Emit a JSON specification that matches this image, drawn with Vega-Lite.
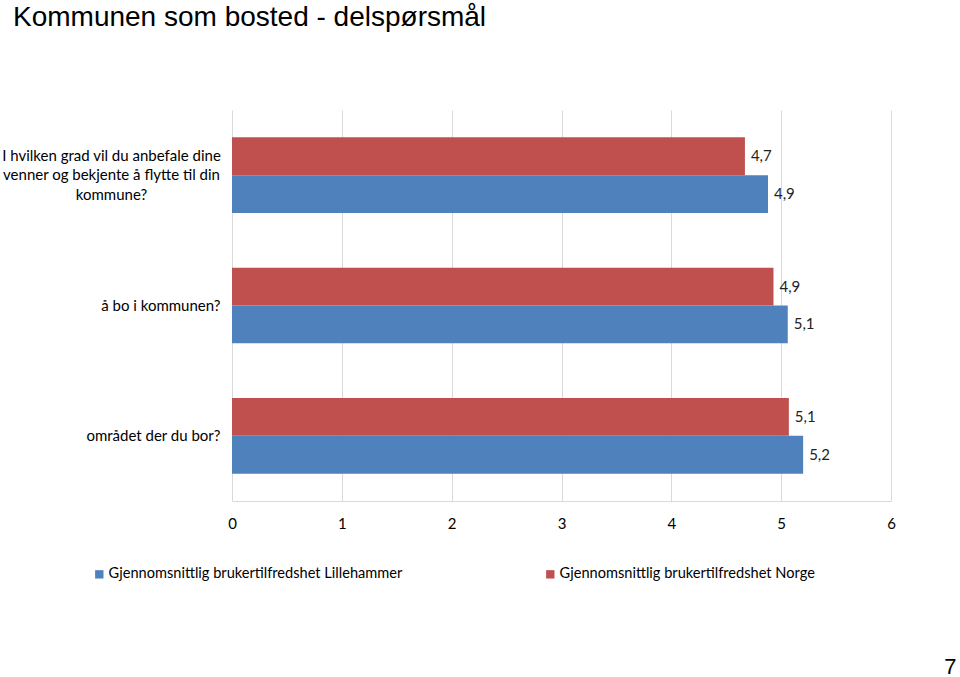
{
  "$schema": "https://vega.github.io/schema/vega-lite/v6.json",
  "width": 659,
  "height": 391,
  "autosize": {"type": "none"},
  "padding": {"left": 232, "top": 110, "right": 69, "bottom": 176},
  "background": "white",
  "title": {
    "text": "Kommunen som bosted - delspørsmål",
    "anchor": "start",
    "frame": "group",
    "dx": -219,
    "offset": 78,
    "font": "Liberation Sans",
    "fontSize": 28,
    "fontWeight": "normal",
    "color": "#000000"
  },
  "config": {
    "view": {"stroke": null},
    "font": "Lato"
  },
  "data": {
    "values": [
      {"q": "I hvilken grad vil du anbefale dine|venner og bekjente å flytte til din|kommune?", "s": "Gjennomsnittlig brukertilfredshet Norge", "v": 4.67, "lab": "4,7"},
      {"q": "I hvilken grad vil du anbefale dine|venner og bekjente å flytte til din|kommune?", "s": "Gjennomsnittlig brukertilfredshet Lillehammer", "v": 4.88, "lab": "4,9"},
      {"q": "å bo i kommunen?", "s": "Gjennomsnittlig brukertilfredshet Norge", "v": 4.93, "lab": "4,9"},
      {"q": "å bo i kommunen?", "s": "Gjennomsnittlig brukertilfredshet Lillehammer", "v": 5.06, "lab": "5,1"},
      {"q": "området der du bor?", "s": "Gjennomsnittlig brukertilfredshet Norge", "v": 5.07, "lab": "5,1"},
      {"q": "området der du bor?", "s": "Gjennomsnittlig brukertilfredshet Lillehammer", "v": 5.2, "lab": "5,2"}
    ]
  },
  "encoding": {
    "y": {
      "field": "q",
      "type": "nominal",
      "sort": null,
      "scale": {"paddingInner": 0.42, "paddingOuter": 0.21},
      "axis": {
        "title": null,
        "domain": false,
        "ticks": false,
        "labelExpr": "split(datum.label, '|')",
        "labelFont": "Lato",
        "labelFontSize": 15,
        "labelColor": "#000000",
        "labelLimit": 400,
        "labelLineHeight": 19.5,
        "labelBaseline": "middle",
        "labelAlign": {"condition": {"test": "indexof(datum.value, '|') >= 0", "value": "center"}, "value": "right"},
        "labelPadding": {"condition": {"test": "indexof(datum.value, '|') >= 0", "value": 121}, "value": 12},
        "labelOffset": {"condition": {"test": "indexof(datum.value, '|') >= 0", "value": -19.5}, "value": 0}
      }
    },
    "yOffset": {
      "field": "s",
      "type": "nominal",
      "sort": ["Gjennomsnittlig brukertilfredshet Norge", "Gjennomsnittlig brukertilfredshet Lillehammer"]
    },
    "x": {
      "field": "v",
      "type": "quantitative",
      "scale": {"domain": [0, 6], "nice": false},
      "axis": {
        "values": [0, 1, 2, 3, 4, 5, 6],
        "format": "d",
        "grid": true,
        "gridColor": "#D9D9D9",
        "domainColor": "#D9D9D9",
        "ticks": false,
        "labelFlush": false,
        "labelPadding": 15,
        "labelFont": "Lato",
        "labelFontSize": 15,
        "labelColor": "#000000",
        "title": "7",
        "titleFont": "Liberation Sans",
        "titleFontSize": 22,
        "titleFontWeight": "normal",
        "titleColor": "#000000",
        "titleAlign": "right",
        "titleBaseline": "alphabetic",
        "titleX": 724,
        "titleY": 172
      }
    },
    "color": {
      "field": "s",
      "type": "nominal",
      "scale": {
        "domain": ["Gjennomsnittlig brukertilfredshet Lillehammer", "Gjennomsnittlig brukertilfredshet Norge"],
        "range": ["#4F81BD", "#C0504D"]
      },
      "legend": {
        "title": null,
        "orient": "none",
        "direction": "horizontal",
        "legendX": -140,
        "legendY": 457,
        "symbolType": "square",
        "symbolSize": 70,
        "labelOffset": 2,
        "labelFont": "Lato",
        "labelFontSize": 14.6,
        "labelColor": "#000000",
        "labelLimit": 500,
        "columnPadding": 140
      }
    }
  },
  "layer": [
    {"mark": {"type": "bar"}},
    {
      "mark": {"type": "text", "align": "left", "baseline": "middle", "dx": 6, "font": "Lato", "fontSize": 15, "color": "#222222"},
      "encoding": {"text": {"field": "lab"}, "color": {"value": "#222222"}}
    }
  ]
}
